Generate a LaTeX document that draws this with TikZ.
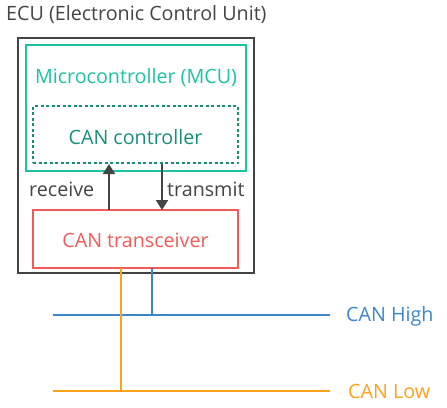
\documentclass[tikz,border=0pt]{standalone}
\usepackage{fontspec}
\setmainfont{Open Sans}
\usetikzlibrary{arrows.meta}
\definecolor{gr}{HTML}{444444}
\definecolor{teal1}{HTML}{1CC3A0}
\definecolor{teal2}{HTML}{178F78}
\definecolor{red1}{HTML}{F25A5A}
\definecolor{blue1}{HTML}{3D85C8}
\definecolor{orange1}{HTML}{FFA11A}
\tikzset{
  lbl/.style={inner sep=0pt, font=\fontsize{19.7}{23}\selectfont},
  boxline/.style={line width=2pt},
  sig/.style={line width=2pt, draw=gr, -{Triangle[length=10pt,width=12pt]}},
  bus/.style={line width=2pt}
}
\begin{document}
\begin{tikzpicture}[x=1pt,y=-1pt]
\useasboundingbox (0,0) rectangle (447,407);
\node[lbl, text=gr, anchor=west] (title) at (6,15) {ECU (Electronic Control Unit)};
\draw[boxline, draw=gr] (18,38) rectangle (254,273);
\node[boxline, draw=teal1, minimum width=220pt, minimum height=126pt, inner sep=0pt] (mcu) at (136,108) {};
\node[lbl, text=teal1] (mcut) at (136,78) {Microcontroller (MCU)};
\node[draw=teal2, line width=2pt, dash pattern=on 3pt off 2.5pt, minimum width=205pt, minimum height=57pt, inner sep=0pt] (ctl) at (135.5,134.5) {};
\node[lbl, text=teal2] (ctlt) at (135.5,137) {CAN controller};
\node[draw=red1, line width=2pt, minimum width=205pt, minimum height=58pt, inner sep=0pt] (trx) at (135.5,239) {};
\node[lbl, text=red1] (trxt) at (135.5,240) {CAN transceiver};
\coordinate (rxb) at (109,210);
\coordinate (rxt) at (109,164);
\coordinate (txt) at (162,164);
\coordinate (txb) at (162,210);
\draw[sig] (rxb) -- (rxt);
\draw[sig] (txt) -- (txb);
\node[lbl, text=gr, anchor=west] (rx) at (29,189) {receive};
\node[lbl, text=gr, anchor=west] (tx) at (167,189) {transmit};
\coordinate (hl) at (53,315);
\coordinate (hr) at (330,315);
\coordinate (ll) at (53,391);
\coordinate (lr) at (330,391);
\coordinate (ht) at (152,268);
\coordinate (hb) at (152,315);
\coordinate (lt) at (121,268);
\coordinate (lb) at (121,391);
\draw[bus, draw=blue1] (hl) -- (hr);
\draw[bus, draw=blue1] (ht) -- (hb);
\draw[bus, draw=orange1] (ll) -- (lr);
\draw[bus, draw=orange1] (lt) -- (lb);
\node[lbl, text=blue1, anchor=west] (hi) at (346,316) {CAN High};
\node[lbl, text=orange1, anchor=west] (lo) at (348,391) {CAN Low};
\end{tikzpicture}
\end{document}
